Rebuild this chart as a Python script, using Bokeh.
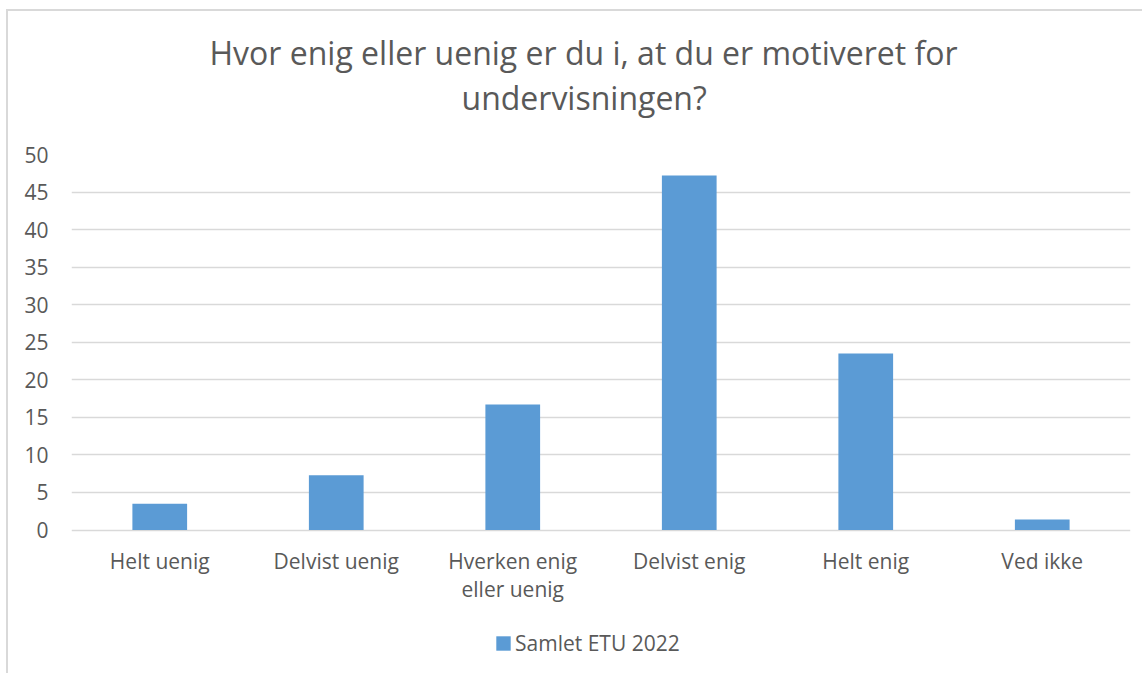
from bokeh.plotting import figure
from bokeh.models import ColumnDataSource, Legend, LegendItem, Range1d, FixedTicker, Title
from bokeh.embed import file_html
from bokeh.resources import INLINE

categories = ["Helt uenig", "Delvist uenig", "Hverken enig\neller uenig", "Delvist enig", "Helt enig", "Ved ikke"]
values = [3.5, 7.3, 16.7, 47.2, 23.5, 1.4]
series_name = "Samlet ETU 2022"
y_ticks = [0, 5, 10, 15, 20, 25, 30, 35, 40, 45, 50]
title_lines = ["Hvor enig eller uenig er du i, at du er motiveret for", "undervisningen?"]

FONT = "Open Sans"
TXT = "#595959"
BAR = "#5B9BD5"
GRID = "#D9D9D9"
TICK_FS = "21px"
TITLE_FS = "32px"

positions = list(range(len(categories)))
x_lo, x_hi = -0.5, len(categories) - 0.5
source = ColumnDataSource(dict(x=positions, val=values))

# frame extends below the zero line so the category labels and legend sit inside it
p = figure(
    x_range=Range1d(x_lo, x_hi), y_range=Range1d(-19.37, 50),
    width=1136, height=664,
    output_backend="svg", toolbar_location=None,
    min_border_left=63, min_border_right=14, min_border_top=143, min_border_bottom=0,
)
p.styles = {"border-left": "2px solid #D9D9D9", "border-top": "2px solid #D9D9D9",
            "margin-left": "6px", "margin-top": "9px"}
p.outline_line_color = None
p.background_fill_color = "white"
p.border_fill_color = "white"

r = p.vbar(x="x", top="val", width=0.31, source=source, fill_color=BAR, line_color=None)

p.xgrid.grid_line_color = None
p.ygrid.grid_line_color = GRID
p.ygrid.grid_line_width = 1.5
p.ygrid.cross_bounds = (x_lo, x_hi)
p.yaxis.ticker = FixedTicker(ticks=y_ticks)
p.xaxis.ticker = FixedTicker(ticks=positions)
p.xaxis.major_label_overrides = {i: c for i, c in zip(positions, categories)}
p.xaxis.fixed_location = 0

for ax in (p.xaxis[0], p.yaxis[0]):
    ax.axis_line_color = None
    ax.major_tick_line_color = None
    ax.minor_tick_line_color = None
    ax.major_tick_out = 0
    ax.major_tick_in = 0
    ax.minor_tick_out = 0
    ax.minor_tick_in = 0
    ax.major_label_text_font = FONT
    ax.major_label_text_font_size = TICK_FS
    ax.major_label_text_color = TXT

p.yaxis.major_label_standoff = 23
p.xaxis.major_label_standoff = 17
p.xaxis.major_label_text_line_height = 1.0

# Title (two lines) + an invisible spacer between title and plot area
p.title.text = title_lines[0]
p.title.align = "left"
p.title.offset = 138
p.title.text_font = FONT
p.title.text_font_size = TITLE_FS
p.title.text_font_style = "normal"
p.title.text_color = TXT
p.title.standoff = 0
spacer = Title(text=" ", text_font_size="1px", standoff=33, text_color="white")
p.add_layout(spacer, "above")
t2 = Title(text=title_lines[1], align="left", offset=390, text_font=FONT, text_font_size=TITLE_FS,
           text_font_style="normal", text_color=TXT, standoff=0)
p.add_layout(t2, "above")

legend = Legend(items=[LegendItem(label=series_name, renderers=[r])],
                location=(423, 18), orientation="horizontal",
                border_line_color=None, background_fill_alpha=0,
                label_text_font=FONT, label_text_font_size=TICK_FS, label_text_color=TXT,
                glyph_width=18, glyph_height=18, label_standoff=3, padding=10, margin=0)
p.add_layout(legend, "center")

open("out.html", "w").write(file_html(p, INLINE))
